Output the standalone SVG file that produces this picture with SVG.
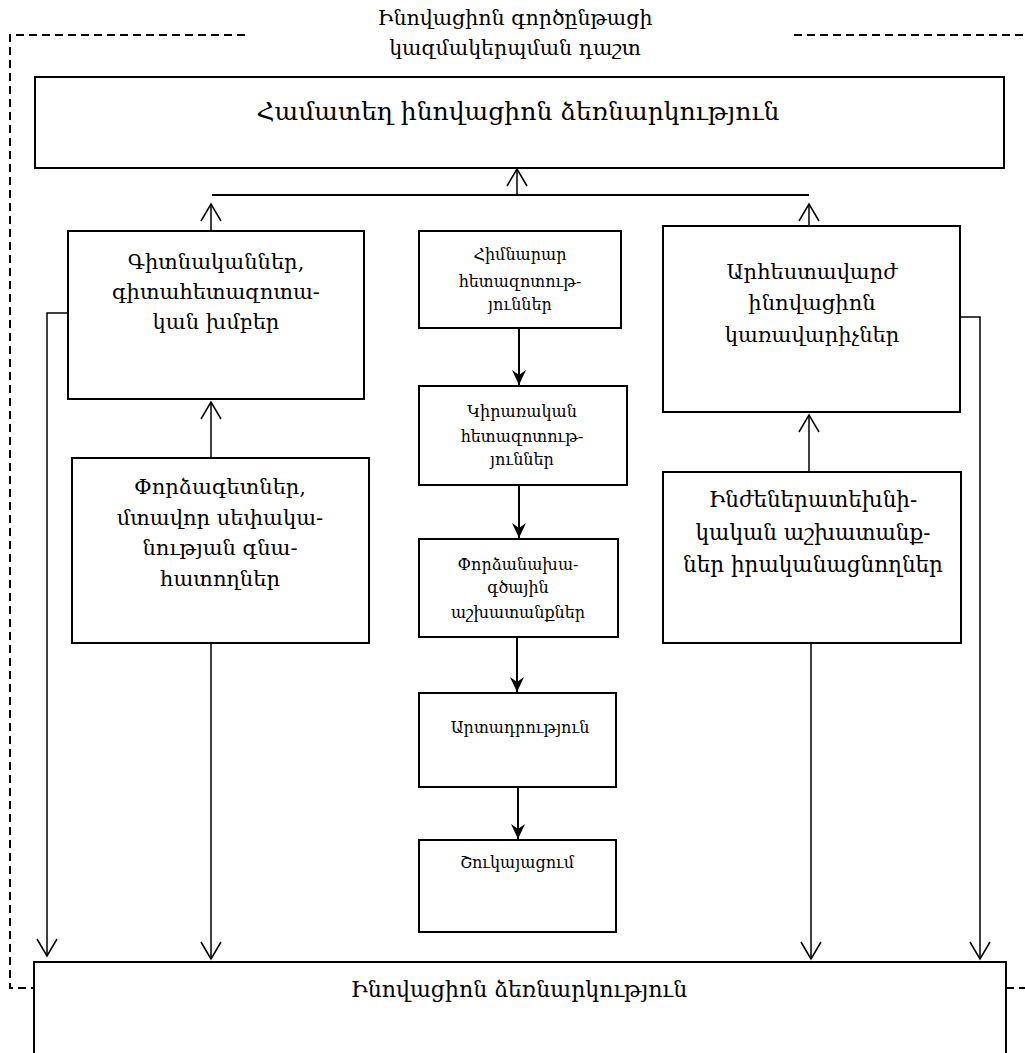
<svg xmlns="http://www.w3.org/2000/svg" width="1025" height="1053" viewBox="0 0 1025 1053">
<style>
  text { font-family: "DejaVu Serif", "Noto Serif", serif; fill: #000; text-anchor: middle; }
  .box { fill: #fff; stroke: #000; stroke-width: 2; }
  .t-title { font-size: 20.5px; }
  .t-big { font-size: 25px; }
  .t-bottom { font-size: 22px; }
  .t-side { font-size: 21px; }
  .t-side2 { font-size: 21.5px; }
  .t-mid { font-size: 16px; }
  .frame { fill: none; stroke: #000; stroke-width: 2; stroke-dasharray: 8 5; }
  .con { fill: none; stroke: #000; stroke-width: 1.5; }
  .con2 { fill: none; stroke: #000; stroke-width: 2; }
</style>
<defs>
  <marker id="open" markerUnits="userSpaceOnUse" markerWidth="22" markerHeight="24" viewBox="-19 -12 22 24" refX="0" refY="0" orient="auto" overflow="visible">
    <path d="M-17,-10 L0,0 L-17,10" fill="none" stroke="#000" stroke-width="1.5"/>
  </marker>
  <marker id="solid" markerUnits="userSpaceOnUse" markerWidth="18" markerHeight="18" viewBox="-16 -9 18 18" refX="0" refY="0" orient="auto" overflow="visible">
    <path d="M0,0 L-15,-7 L-10,0 L-15,7 Z" fill="#000"/>
  </marker>
</defs>

<g id="frame">
  <path class="frame" d="M245,35 H10 V988 H34"/>
  <path class="frame" d="M794,35 H1025"/>
  <path class="frame" d="M1006,988 H1025"/>
  <text class="t-title" x="515" y="25">Ինովացիոն գործընթացի</text>
  <text class="t-title" x="515" y="55">կազմակերպման դաշտ</text>
</g>

<g id="connectors">
  <path class="con2" d="M212,195 H809"/>
  <path class="con" d="M517,195 V169" marker-end="url(#open)"/>
  <path class="con" d="M211,231 V204" marker-end="url(#open)"/>
  <path class="con" d="M809,226 V204" marker-end="url(#open)"/>
  <path class="con" d="M211,458 V402" marker-end="url(#open)"/>
  <path class="con" d="M809,472 V415" marker-end="url(#open)"/>
  <path class="con" d="M68,313 H47 V956" marker-end="url(#open)"/>
  <path class="con" d="M211,643 V959" marker-end="url(#open)"/>
  <path class="con" d="M811,643 V959" marker-end="url(#open)"/>
  <path class="con" d="M960,317 H980 V959" marker-end="url(#open)"/>
  <path class="con2" d="M519,328 V385" marker-end="url(#solid)"/>
  <path class="con2" d="M519,485 V538" marker-end="url(#solid)"/>
  <path class="con2" d="M517,637 V692" marker-end="url(#solid)"/>
  <path class="con2" d="M518,787 V839" marker-end="url(#solid)"/>
</g>

<g id="node-joint">
  <rect class="box" x="35" y="77" width="969" height="91"/>
  <text class="t-big" x="518" y="120">Համատեղ ինովացիոն ձեռնարկություն</text>
</g>

<g id="node-scientists">
  <rect class="box" x="68" y="231" width="296" height="168"/>
  <text class="t-side" x="216" y="269">Գիտնականներ,</text>
  <text class="t-side" x="216" y="299">գիտահետազոտա-</text>
  <text class="t-side" x="216" y="329">կան խմբեր</text>
</g>

<g id="node-experts">
  <rect class="box" x="72" y="458" width="297" height="185"/>
  <text class="t-side" x="220" y="494">Փորձագետներ,</text>
  <text class="t-side" x="220" y="525">մտավոր  սեփակա-</text>
  <text class="t-side" x="220" y="555">նության գնա-</text>
  <text class="t-side" x="220" y="586">հատողներ</text>
</g>

<g id="node-basic">
  <rect class="box" x="419" y="231" width="202" height="97"/>
  <text class="t-mid" x="520" y="260">Հիմնարար</text>
  <text class="t-mid" x="520" y="287">հետազոտութ-</text>
  <text class="t-mid" x="520" y="310">յուններ</text>
</g>

<g id="node-applied">
  <rect class="box" x="419" y="386" width="208" height="99"/>
  <text class="t-mid" x="522" y="417">Կիրառական</text>
  <text class="t-mid" x="522" y="442">հետազոտութ-</text>
  <text class="t-mid" x="522" y="465">յուններ</text>
</g>

<g id="node-prototype">
  <rect class="box" x="419" y="539" width="199" height="98"/>
  <text class="t-mid" x="518" y="570">Փորձանախա-</text>
  <text class="t-mid" x="518" y="593">գծային</text>
  <text class="t-mid" x="518" y="618">աշխատանքներ</text>
</g>

<g id="node-production">
  <rect class="box" x="419" y="693" width="197" height="94"/>
  <text class="t-mid" x="520" y="733">Արտադրություն</text>
</g>

<g id="node-marketing">
  <rect class="box" x="419" y="840" width="197" height="92"/>
  <text class="t-mid" x="517" y="868">Շուկայացում</text>
</g>

<g id="node-managers">
  <rect class="box" x="663" y="226" width="297" height="186"/>
  <text class="t-side" x="812" y="279">Արհեստավարժ</text>
  <text class="t-side" x="812" y="310">ինովացիոն</text>
  <text class="t-side" x="812" y="342">կառավարիչներ</text>
</g>

<g id="node-engineers">
  <rect class="box" x="663" y="472" width="298" height="171"/>
  <text class="t-side2" x="813" y="507">Ինժեներատեխնի-</text>
  <text class="t-side2" x="813" y="540">կական աշխատանք-</text>
  <text class="t-side2" x="813" y="572">ներ իրականացնողներ</text>
</g>

<g id="node-enterprise">
  <rect class="box" x="34" y="962" width="972" height="120"/>
  <text class="t-bottom" x="519" y="997">Ինովացիոն ձեռնարկություն</text>
</g>
</svg>
